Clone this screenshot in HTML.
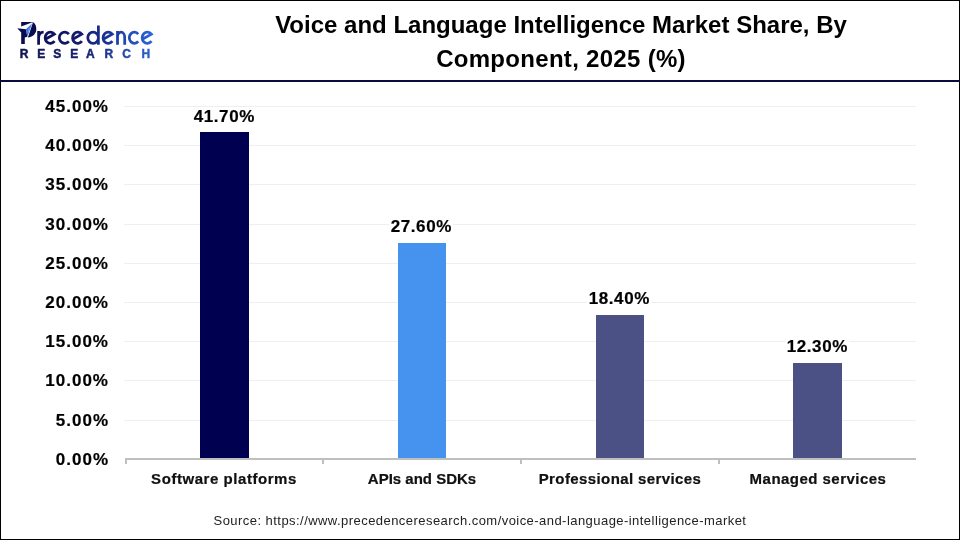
<!DOCTYPE html>
<html><head><meta charset="utf-8">
<style>
html,body{margin:0;padding:0;}
body{width:960px;height:540px;position:relative;overflow:hidden;background:#fff;font-family:"Liberation Sans",sans-serif;}
#frame{position:absolute;left:0;top:0;width:958px;height:538px;border:1px solid #000;}
.abs{position:absolute;white-space:nowrap;}
.title{left:81px;width:960px;text-align:center;font-weight:bold;font-size:24px;color:#000;}
#rule{position:absolute;left:0px;top:80px;width:960px;height:2px;background:#0b0b3b;}
.grid{position:absolute;left:124px;width:792px;height:1px;background:#efefef;}
.ylab{position:absolute;right:851px;font-weight:bold;font-size:17px;color:#000;line-height:17px;letter-spacing:1px;}
.bar{position:absolute;width:49px;}
.val{position:absolute;font-weight:bold;font-size:17px;color:#000;line-height:17px;text-align:center;letter-spacing:0.6px;}
.val span{background:#fff;padding-left:1.6px;padding-right:1px;}
.cat{position:absolute;font-weight:bold;font-size:15px;color:#111;text-align:center;line-height:15px;}
#src{position:absolute;left:0;width:960px;text-align:center;top:514px;font-size:13px;color:#222;line-height:14px;letter-spacing:0.45px;}
.ylab,.val,.cat{-webkit-text-stroke:0.2px #000;}
</style></head><body><div id="wrap" style="position:absolute;left:0;top:0;width:960px;height:540px;will-change:transform">
<div id="frame"></div>

<svg style="position:absolute;left:0;top:0" width="170" height="70" viewBox="0 0 170 70">
<defs>
<linearGradient id="lg" gradientUnits="userSpaceOnUse" x1="17" y1="0" x2="154" y2="0">
<stop offset="0" stop-color="#0a0c4e"/>
<stop offset="0.45" stop-color="#141a6c"/>
<stop offset="0.7" stop-color="#1a3a9e"/>
<stop offset="1" stop-color="#2b67dc"/>
</linearGradient>
<linearGradient id="lg2" gradientUnits="userSpaceOnUse" x1="20" y1="0" x2="151" y2="0">
<stop offset="0" stop-color="#10154f"/>
<stop offset="0.5" stop-color="#172070"/>
<stop offset="1" stop-color="#2c62d0"/>
</linearGradient>
</defs>
<g fill="#0a0c4e">
<polygon points="21.2,21.9 31.8,21.9 31.8,22.6 21.2,26.6"/>
<path d="M32.2,22 C35,22.6 36.6,26 36.3,30 C35.9,34 32.4,37.2 27.9,37.6 L32.7,23.2 Z"/>
<polygon points="17.3,28.2 25.9,29.3 27.4,36.8 24.8,37.6 24.8,44.1 21.2,44.1 21.2,32.4"/>
</g>
<polygon points="32,23.4 25.9,29.3 27.4,36.7" fill="#2f6fdc"/>
<polygon points="31.6,24 27.6,30 27.7,34.5" fill="#5a96ee"/>
<g fill="none" stroke="url(#lg)" stroke-width="2.75">
<path d="M38.60,44.67 V31.03 M38.60,38.25 C38.60,33.70 41.10,32.20 43.60,32.20"/>
<path d="M45.33,39.19 L54.42,34.18 A5.25,5.55 0 1 0 54.54,41.17"/>
<path d="M68.89,34.04 A5.50,5.55 0 1 0 68.89,41.46"/>
<path d="M72.73,39.19 L81.82,34.18 A5.25,5.55 0 1 0 81.94,41.17"/>
<path d="M98.40,25.5 V44.67 M98.40,37.75 A5.30,5.55 0 1 0 87.80,37.75 A5.30,5.55 0 1 0 98.40,37.75"/>
<path d="M103.23,39.19 L112.32,34.18 A5.25,5.55 0 1 0 112.44,41.17"/>
<path d="M117.50,44.67 V31.03 M117.50,37.25 A3.60,5.05 0 0 1 124.70,37.25 V44.67"/>
<path d="M138.19,34.04 A5.10,5.55 0 1 0 138.19,41.46"/>
<path d="M142.33,39.19 L151.42,34.18 A5.25,5.55 0 1 0 151.54,41.17"/>
</g>

<text x="19.8 37.2 53.3 70.3 85.9 104.5 122.2 141.6" y="57.8" font-family="Liberation Sans" font-weight="bold" font-size="12" fill="url(#lg2)" stroke="url(#lg2)" stroke-width="0.45">RESEARCH</text>
</svg>

<div class="abs title" style="top:10px;line-height:30px;">Voice and Language Intelligence Market Share, By</div>
<div class="abs title" style="top:44px;line-height:30px;letter-spacing:0.3px">Component, 2025 (%)</div>
<div id="rule"></div>

<div class="grid" style="top:106px"></div>
<div class="grid" style="top:145px"></div>
<div class="grid" style="top:184px"></div>
<div class="grid" style="top:224px"></div>
<div class="grid" style="top:263px"></div>
<div class="grid" style="top:302px"></div>
<div class="grid" style="top:341px"></div>
<div class="grid" style="top:380px"></div>
<div class="grid" style="top:420px"></div>

<div class="ylab" style="top:98px">45.00%</div>
<div class="ylab" style="top:137px">40.00%</div>
<div class="ylab" style="top:176px">35.00%</div>
<div class="ylab" style="top:216px">30.00%</div>
<div class="ylab" style="top:255px">25.00%</div>
<div class="ylab" style="top:294px">20.00%</div>
<div class="ylab" style="top:333px">15.00%</div>
<div class="ylab" style="top:372px">10.00%</div>
<div class="ylab" style="top:412px">5.00%</div>
<div class="ylab" style="top:451px">0.00%</div>

<div class="bar" style="left:200px;top:132px;height:327px;background:#000050"></div>
<div class="bar" style="left:398px;width:48px;top:243px;height:216px;background:#4592ef"></div>
<div class="bar" style="left:596px;width:48px;top:315px;height:144px;background:#4b5085"></div>
<div class="bar" style="left:793px;top:363px;height:96px;background:#4b5085"></div>

<div class="val" style="left:184px;width:80px;top:108px"><span>41.70%</span></div>
<div class="val" style="left:381px;width:80px;top:218px"><span>27.60%</span></div>
<div class="val" style="left:579px;width:80px;top:290px"><span>18.40%</span></div>
<div class="val" style="left:777px;width:80px;top:338px"><span>12.30%</span></div>

<div style="position:absolute;left:125px;top:458px;width:791px;height:2px;background:#bfbfbf"></div>
<div style="position:absolute;left:125px;top:458px;width:2px;height:6px;background:#bfbfbf"></div>
<div style="position:absolute;left:322px;top:458px;width:2px;height:6px;background:#bfbfbf"></div>
<div style="position:absolute;left:520px;top:458px;width:2px;height:6px;background:#bfbfbf"></div>
<div style="position:absolute;left:718px;top:458px;width:2px;height:6px;background:#bfbfbf"></div>

<div class="cat" style="left:124px;width:200px;top:471px;letter-spacing:0.55px">Software platforms</div>
<div class="cat" style="left:322px;width:200px;top:471px">APIs and SDKs</div>
<div class="cat" style="left:520px;width:200px;top:471px;letter-spacing:0.4px">Professional services</div>
<div class="cat" style="left:718px;width:200px;top:471px;letter-spacing:0.47px">Managed services</div>

<div id="src">Source: https://www.precedenceresearch.com/voice-and-language-intelligence-market</div>
</div></body></html>
